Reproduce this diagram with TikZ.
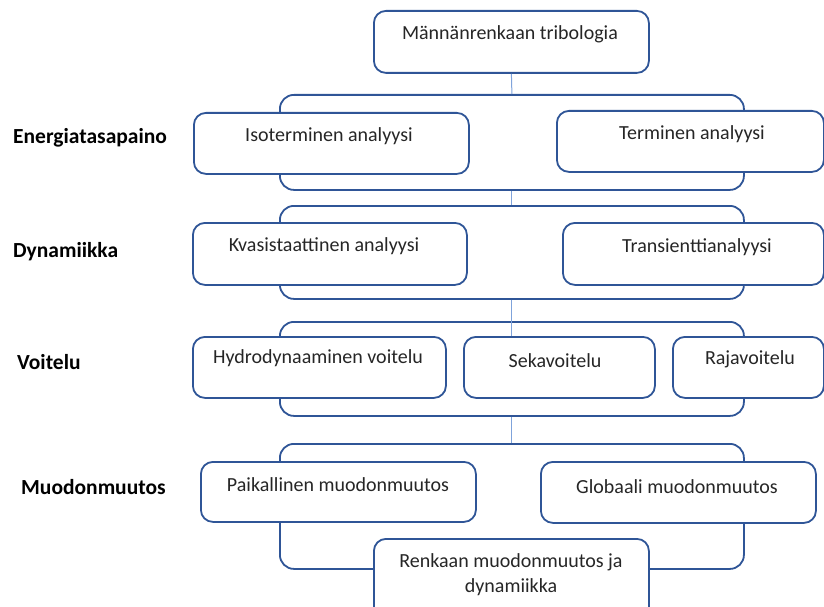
\documentclass[tikz,border=0pt]{standalone}
\usepackage{fontspec}
\setmainfont{Carlito}
\definecolor{edge}{HTML}{2F5597}
\definecolor{conn}{HTML}{7FA3DB}
\definecolor{txt}{HTML}{262626}
\begin{document}
\begin{tikzpicture}[x=1pt,y=-1pt,
  frame/.style={draw=edge, line width=1.8pt, rounded corners=12pt, fill=white, anchor=north west, inner sep=0pt},
  holder/.style={draw=edge, line width=1.8pt, rounded corners=14pt, fill=white, anchor=north west, inner sep=0pt},
  boxtext/.style={font=\fontsize{20}{25}\selectfont, text=txt, align=center, inner sep=0pt},
  rowlabel/.style={font=\bfseries\fontsize{21.5}{24}\selectfont, anchor=west, inner sep=0pt},
  link/.style={draw=conn, line width=1pt}]
\useasboundingbox (0,0) rectangle (824,607);
\clip (0,0) rectangle (824,607);

% row containers
\node[holder, minimum width=464, minimum height=95] (row1) at (279,94) {};
\node[holder, minimum width=464, minimum height=93] (row2) at (279,205) {};
\node[holder, minimum width=464, minimum height=94] (row3) at (279,321) {};
\node[holder, minimum width=464, minimum height=125] (row4) at (279,443) {};

% top box
\node[frame, minimum width=275, minimum height=62] (top) at (373,10) {};

% row 1
\node[frame, minimum width=275, minimum height=61] (iso) at (193,112) {};
\node[frame, minimum width=267, minimum height=61] (ter) at (556,110) {};
% row 2
\node[frame, minimum width=274, minimum height=62] (kva) at (192,222) {};
\node[frame, minimum width=261, minimum height=62] (tra) at (562,222) {};
% row 3
\node[frame, minimum width=253, minimum height=61] (hyd) at (192,336) {};
\node[frame, minimum width=191, minimum height=61] (sek) at (463,336) {};
\node[frame, minimum width=151, minimum height=61] (raj) at (672,336) {};
% row 4
\node[frame, minimum width=275, minimum height=60] (pai) at (200,461) {};
\node[frame, minimum width=275, minimum height=61] (glo) at (540,461) {};
\node[frame, minimum width=275, minimum height=90] (ren) at (373,538) {};

% connectors
\draw[link] (top.south) -- (row1.north);
\draw[link] (row1.south) -- (row2.north);
\draw[link] (row2.south) -- (row2.south |- sek.north);
\draw[link] (row3.south) -- (row4.north);

% texts
\node[boxtext] (topt) at (510,34) {Männänrenkaan tribologia};
\node[boxtext] (isot) at (329,136) {Isoterminen analyysi};
\node[boxtext] (tert) at (692,134) {Terminen analyysi};
\node[boxtext] (kvat) at (324,246) {Kvasistaattinen analyysi};
\node[boxtext] (trat) at (697,247) {Transienttianalyysi};
\node[boxtext] (hydt) at (318,358) {Hydrodynaaminen voitelu};
\node[boxtext] (sekt) at (555,361) {Sekavoitelu};
\node[boxtext] (rajt) at (750,359) {Rajavoitelu};
\node[boxtext] (pait) at (338,485) {Paikallinen muodonmuutos};
\node[boxtext] (glot) at (677,487) {Globaali muodonmuutos};
\node[boxtext] (rent) at (511,575) {Renkaan muodonmuutos ja\\dynamiikka};

% row labels
\node[rowlabel] (l1) at (13,138) {Energiatasapaino};
\node[rowlabel] (l2) at (13,252) {Dynamiikka};
\node[rowlabel] (l3) at (17,362) {Voitelu};
\node[rowlabel] (l4) at (21,487) {Muodonmuutos};
\end{tikzpicture}
\end{document}
